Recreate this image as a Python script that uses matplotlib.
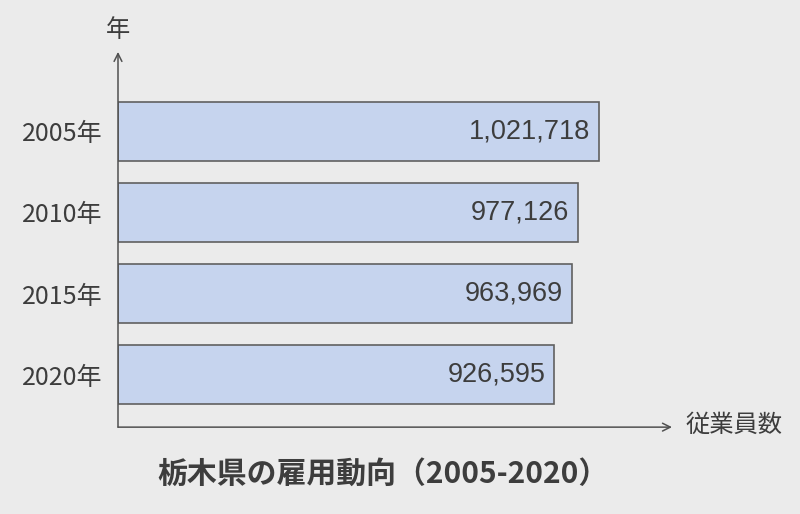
import matplotlib.pyplot as plt

plt.rcParams['font.family'] = ['Noto Sans CJK JP', 'DejaVu Sans']

# データ
years = ['2005年', '2010年', '2015年', '2020年']
employees = [1021718, 977126, 963969, 926595]
title = '栃木県の雇用動向（2005-2020）'

bg = '#ebebeb'
txt = '#3d3d3d'

fig = plt.figure(figsize=(8, 5.14), dpi=100, facecolor=bg)
ax = fig.add_axes([0.1475, 0.169, 0.6925, 0.730], facecolor=bg)

y = list(range(len(years)))[::-1]  # 2005が一番上
ax.barh(y, employees, height=0.73, color='#c6d4ee', edgecolor='#606060', linewidth=1.2)

for yi, v in zip(y, employees):
    ax.text(v - 19000, yi, f'{v:,}', ha='right', va='center', fontsize=19.5,
            color=txt, family=['Liberation Sans', 'DejaVu Sans'])

ax.set_xlim(0, 1176700)
ax.set_ylim(-0.648, 3.98)
ax.set_yticks(y)
ax.set_yticklabels(years, fontsize=18, color=txt)
ax.tick_params(axis='y', length=0, pad=11)
ax.set_xticks([])
for s in ax.spines.values():
    s.set_visible(False)

# 矢印の軸
ax.annotate('', xy=(0, 1), xytext=(0, 0), xycoords='axes fraction',
            arrowprops=dict(arrowstyle='->', color='#505050', lw=1.1,
                            shrinkA=0, shrinkB=0, mutation_scale=14))
ax.annotate('', xy=(1, 0), xytext=(0, 0), xycoords='axes fraction',
            arrowprops=dict(arrowstyle='->', color='#505050', lw=1.1,
                            shrinkA=0, shrinkB=0, mutation_scale=14))

fig.text(118 / 800, 1 - 30 / 514, '年', ha='center', va='center', fontsize=17.5, color=txt)
fig.text(686 / 800, 1 - 425 / 514, '従業員数', ha='left', va='center', fontsize=17.5, color=txt)
fig.text(383 / 800, 1 - 474 / 514, title, ha='center', va='center', fontsize=21.5,
         fontweight='bold', color=txt)

fig.savefig('out.png', dpi=100, facecolor=bg)
